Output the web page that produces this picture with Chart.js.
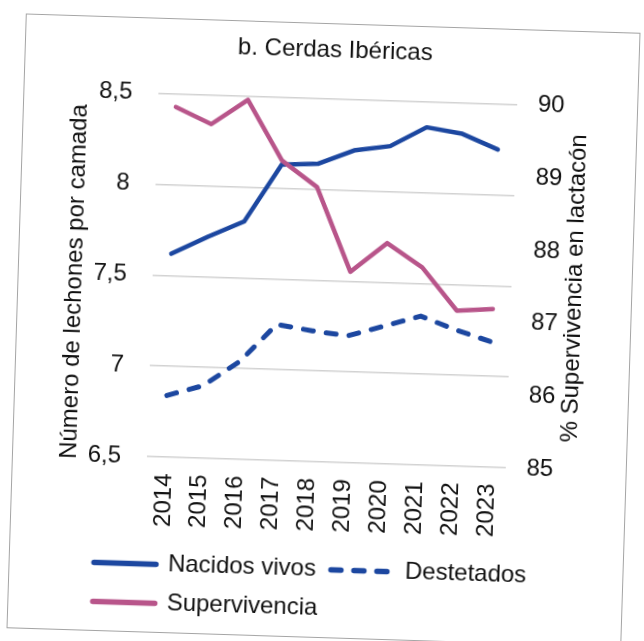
<!DOCTYPE html>
<html lang="es">
<head>
<meta charset="utf-8">
<title>b. Cerdas Ibéricas</title>
<script src="https://cdn.jsdelivr.net/npm/chart.js@4.4.1/dist/chart.umd.min.js"></script>
<style>
  html, body { margin: 0; padding: 0; background: #fff; }
  body { width: 644px; height: 641px; overflow: hidden; position: relative; }
  /* the scanned figure sits slightly tilted inside a grey frame */
  #card {
    position: absolute; left: 16px; top: 23px;
    width: 615px; height: 615px; box-sizing: border-box;
    border: 1px solid #a5a5a5; background: #fff;
    transform: rotate(1.8deg);
  }
  #card canvas { display: block; }
</style>
</head>
<body>
<div id="card"><canvas id="chart" width="613" height="613"></canvas></div>
<script>
// Data
const years = ['2014', '2015', '2016', '2017', '2018', '2019', '2020', '2021', '2022', '2023'];
const nacidosVivos = [7.62, 7.72, 7.81, 8.13, 8.14, 8.22, 8.25, 8.36, 8.33, 8.25];
const destetados = [6.84, 6.90, 7.04, 7.25, 7.22, 7.20, 7.26, 7.32, 7.25, 7.19];
const supervivencia = [89.82, 89.60, 89.95, 89.13, 88.78, 87.63, 88.04, 87.72, 87.14, 87.18];

const leftTickLabels = ['6,5', '7', '7,5', '8', '8,5'];
const rightTickLabels = ['85', '86', '87', '88', '89', '90'];

const chartTitle = 'b. Cerdas Ibéricas';
const leftAxisTitle = 'Número de lechones por camada';
const rightAxisTitle = '% Supervivencia en lactacón';

const blue = '#1c47a0';
const pink = '#b8558a';
const textColor = '#111';
const fontFamily = '"Liberation Sans", Arial, sans-serif';

Chart.defaults.font.family = fontFamily;
Chart.defaults.color = textColor;

// title is centred on the card, not on the legend box, so move it after layout
const titleShift = {
    id: 'titleShift',
    afterLayout(chart) {
        const t = chart.titleBlock;
        if (!t) return;
        const w = t.right - t.left;
        t.left = 309.5 - w / 2;
        t.right = 309.5 + w / 2;
    }
};

// Both axis titles read bottom-to-top (Chart.js would turn the right one downwards)
const axisTitles = {
    id: 'axisTitles',
    afterDraw(chart) {
        const { ctx, chartArea } = chart;
        const mid = (chartArea.top + chartArea.bottom) / 2;
        const items = [
            [leftAxisTitle, chartArea.left - 77.6, mid + 9],
            [rightAxisTitle, chartArea.right + 63.4, mid]
        ];
        ctx.save();
        ctx.font = '24px ' + fontFamily;
        ctx.fillStyle = textColor;
        ctx.textAlign = 'center';
        ctx.textBaseline = 'middle';
        items.forEach(([txt, x, y]) => {
            ctx.save();
            ctx.translate(x, y);
            ctx.rotate(-Math.PI / 2);
            ctx.fillText(txt, 0, 0);
            ctx.restore();
        });
        ctx.restore();
    }
};

// point-style legend items take their style from the point, so put the dash back
function legendLabels(chart) {
    const items = Chart.defaults.plugins.legend.labels.generateLabels(chart);
    items.forEach(item => {
        const ds = chart.data.datasets[item.datasetIndex];
        item.lineDash = ds.borderDash || [];
        item.lineCap = 'round';
        item.lineWidth = 5.5;
    });
    return items;
}

const ctx = document.getElementById('chart');

new Chart(ctx, {
    type: 'line',
    data: {
        labels: years,
        datasets: [
            {
                label: 'Nacidos vivos',
                data: nacidosVivos,
                yAxisID: 'y',
                borderColor: blue,
                backgroundColor: blue,
                borderWidth: 4.5,
                order: 1
            },
            {
                label: 'Destetados',
                data: destetados,
                yAxisID: 'y',
                borderColor: blue,
                backgroundColor: blue,
                borderWidth: 5,
                borderDash: [10, 13],
                order: 2
            },
            {
                label: 'Supervivencia',
                data: supervivencia,
                yAxisID: 'y1',
                borderColor: pink,
                backgroundColor: pink,
                borderWidth: 4.5,
                order: 0   // pink line lies over the blue one
            }
        ]
    },
    options: {
        responsive: false,
        devicePixelRatio: 1,
        animation: false,
        elements: {
            point: { radius: 0, hoverRadius: 0 },
            line: { tension: 0, borderCapStyle: 'round', borderJoinStyle: 'round' }
        },
        layout: { padding: { left: 69.4, right: 20, top: 0, bottom: 6.5 } },
        scales: {
            x: {
                offset: true,
                grid: { display: false, drawTicks: false },
                border: { display: false },
                ticks: {
                    autoSkip: false,
                    minRotation: 90,
                    maxRotation: 90,
                    padding: 16.4,
                    font: { size: 24 }
                },
                afterFit: (scale) => { scale.height = 80.4; }
            },
            y: {
                position: 'left',
                min: 6.5,
                max: 8.5,
                grid: { color: '#d2d2d2', lineWidth: 1.5, drawTicks: false },
                border: { display: false },
                ticks: {
                    stepSize: 0.5,
                    padding: 26,
                    font: { size: 24 },
                    callback: (value, index) => leftTickLabels[index]
                },
                afterFit: (scale) => { scale.width = 64.6; }
            },
            y1: {
                position: 'right',
                min: 85,
                max: 90,
                grid: { display: false, drawTicks: false },
                border: { display: false },
                ticks: {
                    stepSize: 1,
                    padding: 20.7,
                    font: { size: 24 },
                    callback: (value, index) => rightTickLabels[index]
                },
                afterFit: (scale) => { scale.width = 100; }
            }
        },
        plugins: {
            title: {
                display: true,
                text: chartTitle,
                color: textColor,
                font: { size: 24, weight: 'normal' },
                padding: { top: 11.6, bottom: 34.3 }
            },
            legend: {
                position: 'bottom',
                align: 'start',
                labels: {
                    usePointStyle: true,
                    pointStyle: 'line',
                    pointStyleWidth: 62,
                    padding: 15,
                    color: textColor,
                    font: { size: 24 },
                    generateLabels: legendLabels,
                    sort: (a, b) => a.datasetIndex - b.datasetIndex
                }
            },
            tooltip: { enabled: false }
        }
    },
    plugins: [titleShift, axisTitles]
});
</script>
</body>
</html>
